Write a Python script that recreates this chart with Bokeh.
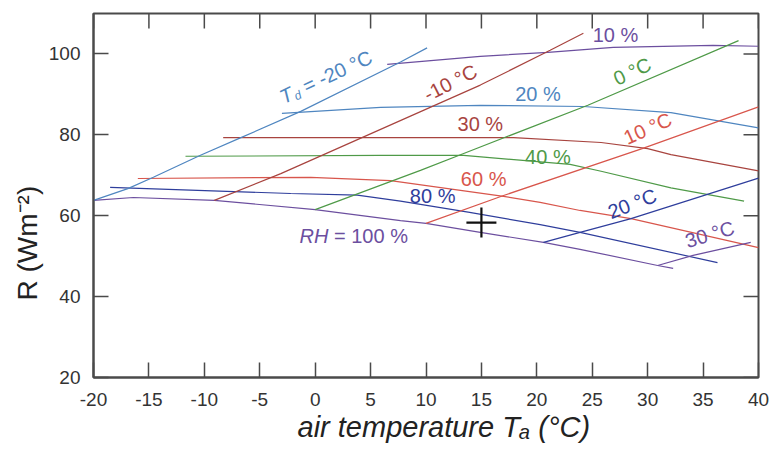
import math
from bokeh.plotting import figure
from bokeh.models import Range1d, FixedTicker, Title
from bokeh.embed import file_html
from bokeh.resources import INLINE
from bokeh.core.properties import value

# ---------------- data ----------------
x_ticks = [-20, -15, -10, -5, 0, 5, 10, 15, 20, 25, 30, 35, 40]
x_tick_labels = ["-20", "-15", "-10", "-5", "0", "5", "10", "15", "20", "25", "30", "35", "40"]
y_ticks = [20, 40, 60, 80, 100]
y_tick_labels = ["20", "40", "60", "80", "100"]

# relative humidity isolines: air temperature (deg C) and R (W m-2)
rh10_t = [6.5, 14.9, 21.0, 26.9, 35.9, 40.0]
rh10_r = [97.4, 99.4, 100.4, 101.6, 102.1, 101.9]
rh20_t = [-3.0, 5.9, 14.9, 24.2, 32.1, 40.0]
rh20_r = [85.3, 86.8, 87.3, 87.0, 85.5, 81.7]
rh30_t = [-8.3, 5.9, 17.9, 25.8, 30.0, 32.1, 40.0]
rh30_r = [79.3, 79.3, 79.3, 78.1, 76.6, 75.1, 71.1]
rh40_t = [-11.7, 5.9, 13.4, 23.0, 25.8, 32.1, 38.7]
rh40_r = [74.7, 74.9, 74.9, 72.7, 71.0, 66.9, 63.6]
rh60_t = [-16.0, -0.4, 6.8, 17.0, 20.3, 23.9, 28.5, 40.0]
rh60_r = [69.2, 69.5, 68.7, 64.8, 63.3, 61.3, 59.3, 52.1]
rh80_t = [-18.5, -2.2, 3.8, 7.7, 13.8, 20.3, 23.9, 36.3]
rh80_r = [67.0, 65.5, 65.1, 63.6, 60.9, 57.8, 55.9, 48.4]
rh100_t = [-20.0, -16.4, -9.1, 0.0, 7.7, 10.0, 14.9, 20.6, 23.9, 30.9, 32.3]
rh100_r = [63.8, 64.5, 63.8, 61.5, 58.8, 58.1, 55.9, 53.4, 51.7, 47.7, 47.0]

# dew point isolines
tdm20_t = [-20.0, -16.9, -14.6, -10.4, -6.7, -1.3, 7.7, 10.1]
tdm20_r = [63.8, 66.7, 69.5, 74.9, 79.3, 85.8, 98.0, 101.5]
tdm10_t = [-9.1, -3.1, 14.9, 21.2, 24.2]
tdm10_r = [63.8, 70.4, 92.3, 100.9, 105.1]
td0_t = [0.0, 9.5, 13.4, 24.6, 38.2]
td0_r = [61.5, 71.2, 75.4, 87.3, 103.3]
td10_t = [10.0, 17.0, 29.5, 40.0]
td10_r = [58.1, 65.0, 76.6, 86.9]
td20_t = [20.6, 23.9, 28.5, 40.0]
td20_r = [53.4, 55.9, 59.3, 69.3]
td30_t = [30.9, 34.1, 39.3]
td30_r = [47.7, 50.2, 53.4]

# marked observation
point_t = [15.0]
point_r = [58.3]

rh_texts = ["10 %", "20 %", "30 %", "40 %", "60 %", "80 %"]
td_texts = ["-10 °C", "0 °C", "10 °C", "20 °C", "30 °C"]

# ---------------- styling / layout ----------------
FONT = "Liberation Sans"
PURPLE = "#6c4f9f"
BLUE = "#4f86c0"
BROWN = "#a8443f"
GREEN = "#4f9a48"
RED = "#d8564c"
NAVY = "#2f3e9c"
AXC = "#4a4a4a"

W, H = 771, 450
BL, BR, BT, BB = 93, 13, 13, 73
X0, X1, Y0, Y1 = -20, 40, 20, 110
PXX = (W - BL - BR) / (X1 - X0)
PXY = (H - BT - BB) / (Y1 - Y0)
TICK = 15

p = figure(width=W, height=H, x_range=Range1d(X0, X1), y_range=Range1d(Y0, Y1),
           output_backend="svg", toolbar_location=None,
           min_border_left=BL, min_border_right=BR, min_border_top=BT, min_border_bottom=BB)
p.xgrid.visible = False
p.ygrid.visible = False
p.outline_line_color = AXC
p.outline_line_width = 2
p.background_fill_color = "white"
p.border_fill_color = "white"

def style_axis(ax, standoff):
    ax.major_tick_in = TICK
    ax.major_tick_out = 0
    ax.minor_tick_line_color = None
    ax.major_tick_line_color = AXC
    ax.major_tick_line_width = 1.5
    ax.axis_line_color = AXC
    ax.axis_line_width = 2
    ax.major_label_text_font = FONT
    ax.major_label_text_font_size = "19px"
    ax.major_label_text_color = "#333333"
    ax.major_label_standoff = standoff

xb = p.xaxis[0]
xb.ticker = FixedTicker(ticks=x_ticks)
xb.major_label_overrides = {t: s for t, s in zip(x_ticks, x_tick_labels)}
style_axis(xb, 15)

yl = p.yaxis[0]
yl.ticker = FixedTicker(ticks=y_ticks)
yl.major_label_overrides = {t: s for t, s in zip(y_ticks, y_tick_labels)}
style_axis(yl, 13)

# axis titles as side titles so they can be offset like the reference
x_title = Title(text="air temperature Tₐ (°C)", align="left", offset=204, standoff=0,
                text_font=FONT, text_font_size="29px", text_font_style="italic",
                text_color="#222222")
p.add_layout(x_title, "below")
y_title = Title(text="R (Wm⁻²)", align="left", offset=77, standoff=6,
                text_font=FONT, text_font_size="28px", text_font_style="normal",
                text_color="#222222")
p.add_layout(y_title, "left")

# inward ticks on the top and right frame edges
p.segment(x0=x_ticks, y0=[Y1] * len(x_ticks), x1=x_ticks,
          y1=[Y1 - TICK / PXY] * len(x_ticks), line_color=AXC, line_width=1.5)
p.segment(x0=[X1] * len(y_ticks), y0=y_ticks, x1=[X1 - TICK / PXX] * len(y_ticks),
          y1=y_ticks, line_color=AXC, line_width=1.5)

curves = [
    (rh10_t, rh10_r, PURPLE), (rh20_t, rh20_r, BLUE), (rh30_t, rh30_r, BROWN),
    (rh40_t, rh40_r, GREEN), (rh60_t, rh60_r, RED), (rh80_t, rh80_r, NAVY),
    (rh100_t, rh100_r, PURPLE),
    (tdm20_t, tdm20_r, BLUE), (tdm10_t, tdm10_r, BROWN), (td0_t, td0_r, GREEN),
    (td10_t, td10_r, RED), (td20_t, td20_r, NAVY), (td30_t, td30_r, PURPLE),
]
for t, r, c in curves:
    p.line(t, r, line_color=c, line_width=1.2)

p.scatter(point_t, point_r, marker="cross", size=30, line_color="#111111", line_width=2.2)

def shift(x, y, along, down, deg):
    a = math.radians(deg)
    dxp = along * math.cos(a) + down * math.sin(a)
    dyp = along * math.sin(a) - down * math.cos(a)
    return x + dxp / PXX, y + dyp / PXY

def txt(x, y, s, color, size="20px", deg=0.0, align="center", baseline="middle", style="normal"):
    p.text(x=[x], y=[y], text=[s], angle=math.radians(deg), text_align=align,
           text_baseline=baseline, text_font=value(FONT), text_font_size=size,
           text_color=color, text_font_style=style)

# RH labels
rh_pos = [(27.1, 104.6), (20.1, 90.0), (14.9, 82.8), (21.0, 74.4), (15.2, 69.0), (10.6, 64.8)]
rh_col = [PURPLE, BLUE, BROWN, GREEN, RED, NAVY]
for s, (x, y), c in zip(rh_texts, rh_pos, rh_col):
    txt(x, y, s, c)

# RH = 100 %
txt(1.2, 54.9, "RH", PURPLE, align="right", style="italic")
qx, qy = shift(1.2, 54.9, 5.5, 0, 0)
txt(qx, qy, "= 100 %", PURPLE, align="left")

# dew point labels
td_pos = [(12.2, 92.9), (28.6, 95.7), (30.0, 81.6), (28.6, 63.0), (35.6, 55.4)]
td_ang = [27, 25, 24, 21, 17]
td_col = [BROWN, GREEN, RED, NAVY, PURPLE]
for s, (x, y), a, c in zip(td_texts, td_pos, td_ang, td_col):
    txt(x, y, s, c, deg=a)

# T_d = -20 °C
PX, PY, PA = -2.1, 90.4, 25
txt(PX, PY, "T", BLUE, deg=PA, align="right", style="italic")
dx, dy = shift(PX, PY, 1, 5, PA)
txt(dx, dy, "d", BLUE, size="12px", deg=PA, align="left", style="italic")
ex, ey = shift(PX, PY, 13, 0, PA)
txt(ex, ey, "= -20 °C", BLUE, deg=PA, align="left")

open("out.html", "w").write(file_html(p, INLINE))
